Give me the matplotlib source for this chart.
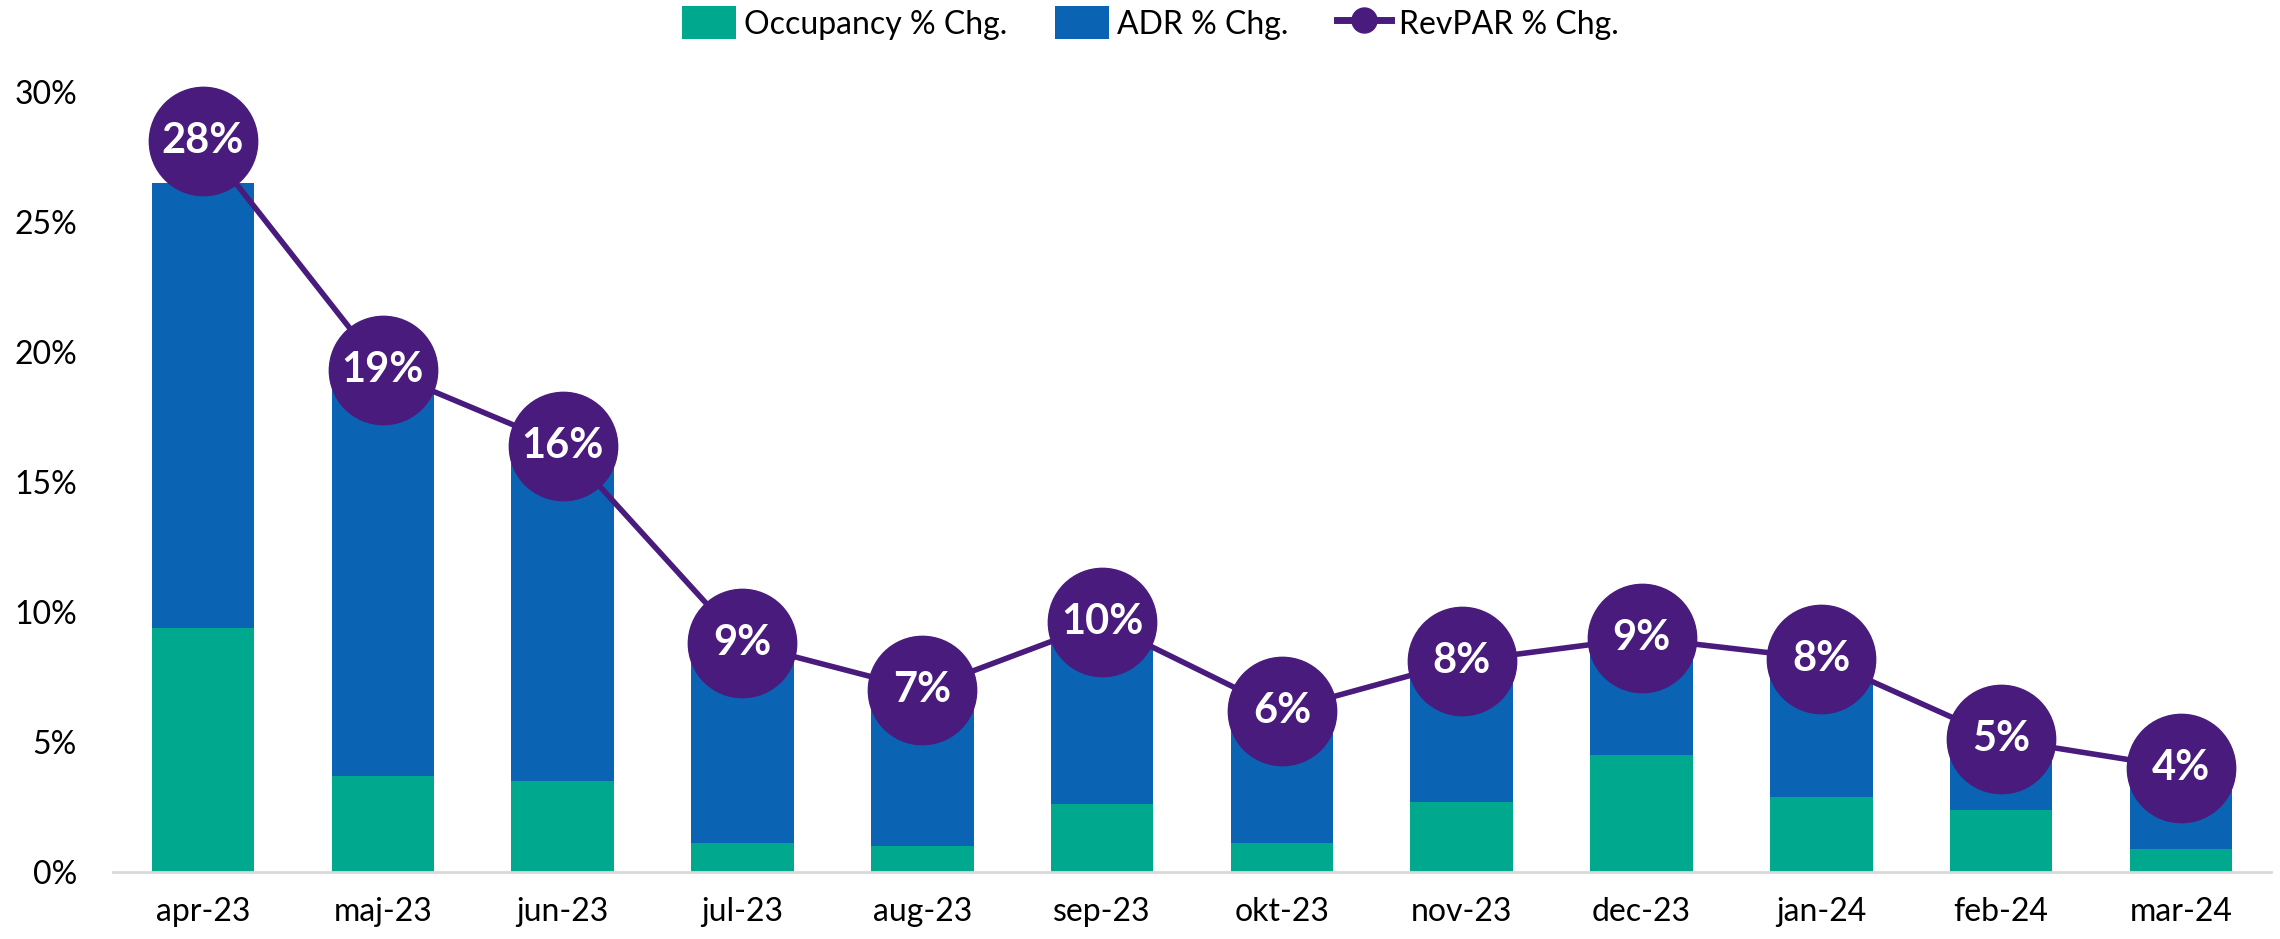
import matplotlib.pyplot as plt
from matplotlib.patches import Patch
from matplotlib.lines import Line2D
from matplotlib.ticker import FuncFormatter

plt.rcParams['font.family'] = ['Lato', 'DejaVu Sans']

# data (percent)
months = ["apr-23", "maj-23", "jun-23", "jul-23", "aug-23", "sep-23",
          "okt-23", "nov-23", "dec-23", "jan-24", "feb-24", "mar-24"]
occupancy = [9.4, 3.7, 3.5, 1.1, 1.0, 2.6, 1.1, 2.7, 4.5, 2.9, 2.4, 0.9]
adr = [17.1, 15.0, 12.6, 7.6, 5.9, 6.8, 5.0, 5.3, 4.3, 5.2, 2.7, 3.1]
revpar = [28.1, 19.3, 16.4, 8.8, 7.0, 9.6, 6.2, 8.1, 9.0, 8.2, 5.1, 4.0]

green = "#00A98E"
blue = "#0B63B3"
purple = "#481B7D"

fig = plt.figure(figsize=(22.8, 9.39), dpi=100)
ax = fig.add_axes([0.0496, 0.0714, 0.9464, 0.8306])

x = range(len(months))
ax.bar(x, occupancy, width=0.57, color=green, zorder=2)
ax.bar(x, adr, width=0.57, bottom=occupancy, color=blue, zorder=2)

# line first, then the big circles on top
ax.plot(x, revpar, color=purple, linewidth=4, zorder=3, clip_on=False)
ax.plot(x, revpar, linestyle="none", marker="o", markersize=78,
        color=purple, zorder=4, clip_on=False)
for i, v in enumerate(revpar):
    ax.text(i, v, f"{v:.0f}%", ha="center", va="center", color="white",
            fontsize=30, fontweight="bold", zorder=5)

ax.set_xlim(-0.5, len(months) - 0.5)
ax.set_ylim(0, 30)
ax.set_yticks([0, 5, 10, 15, 20, 25, 30])
ax.yaxis.set_major_formatter(FuncFormatter(lambda v, p: f"{v:.0f}%"))
ax.set_xticks(list(x))
ax.set_xticklabels(months)
ax.tick_params(axis="y", length=0, pad=26, labelsize=23)
ax.tick_params(axis="x", length=0, pad=18, labelsize=23)

for s in ["top", "right", "left"]:
    ax.spines[s].set_visible(False)
ax.spines["bottom"].set_color("#D9D9D9")
ax.spines["bottom"].set_linewidth(2)

handles = [
    Patch(facecolor=green, label="Occupancy % Chg."),
    Patch(facecolor=blue, label="ADR % Chg."),
    Line2D([0], [0], color=purple, linewidth=5, marker="o", markersize=18,
           label="RevPAR % Chg."),
]
fig.legend(handles=handles, loc="center", bbox_to_anchor=(0.5045, 0.9755),
           ncol=3, frameon=False, fontsize=23, handlelength=1.7,
           handleheight=1.2, handletextpad=0.25, columnspacing=1.5)

plt.savefig("out.png", dpi=100)
